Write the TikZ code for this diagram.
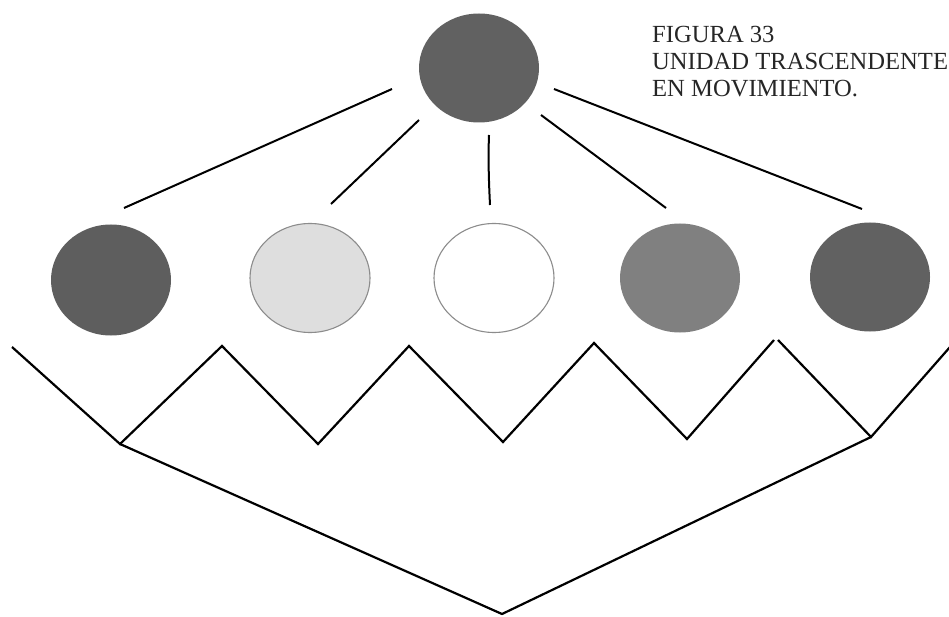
\documentclass[tikz,border=0pt]{standalone}
\usepackage{fontspec}
\setmainfont{Liberation Serif}
\usetikzlibrary{shapes.geometric}
\begin{document}
\begin{tikzpicture}[x=1pt,y=-1pt,
  disc/.style={ellipse, inner sep=0pt, minimum width=120pt, minimum height=109pt, fill=#1},
  ringed/.style={draw=gray!90, line width=1.1pt},
  stroke/.style={line width=2pt, black},
  zig/.style={line width=2.2pt, black, line join=miter}]
\useasboundingbox[fill=white] (0,0) rectangle (949,617);

% circles
\node[disc={black!62}] (top) at (479,68) {};
\node[disc={black!63}, minimum height=111pt] (c1) at (111,280) {};
\node[disc={black!13}, ringed] (c2) at (310,278) {};
\node[disc=white, ringed] (c3) at (494,278) {};
\node[disc={black!50}] (c4) at (680,278) {};
\node[disc={black!62}] (c5) at (870,277) {};

% spokes
\coordinate (s1a) at (392,89);  \coordinate (s1b) at (124,208);
\coordinate (s2a) at (419,120); \coordinate (s2b) at (331,204);
\coordinate (s3a) at (489,135); \coordinate (s3b) at (490,205);
\coordinate (s4a) at (541,115); \coordinate (s4b) at (666,208);
\coordinate (s5a) at (554,89);  \coordinate (s5b) at (862,209);
\draw[stroke] (s1a) -- (s1b);
\draw[stroke] (s2a) -- (s2b);
\draw[stroke] (s3a) .. controls (488,160) and (489,185) .. (s3b);
\draw[stroke] (s4a) -- (s4b);
\draw[stroke] (s5a) -- (s5b);

% zigzag
\coordinate (z0) at (12,347);
\coordinate (z1) at (120,444);
\coordinate (z2) at (222,346);
\coordinate (z3) at (318,444);
\coordinate (z4) at (409,346);
\coordinate (z5) at (503,442);
\coordinate (z6) at (594,343);
\coordinate (z7) at (687,439);
\coordinate (z8) at (774,340);
\coordinate (z9) at (778,340);
\coordinate (z10) at (871,437);
\coordinate (z11) at (950,347);
\draw[zig] (z0) -- (z1) -- (z2) -- (z3) -- (z4) -- (z5) -- (z6) -- (z7) -- (z8);
\draw[zig] (z9) -- (z10) -- (z11);

% bottom V
\coordinate (v) at (502,614);
\draw[zig] (z1) -- (v) -- (z10);

% caption
\node[anchor=north west, inner sep=0pt, align=left, font=\fontsize{24.6}{27}\selectfont, text=black!85] (cap) at (652,26)
  {FIGURA 33\\UNIDAD TRASCENDENTE\\EN MOVIMIENTO.};
\end{tikzpicture}
\end{document}
